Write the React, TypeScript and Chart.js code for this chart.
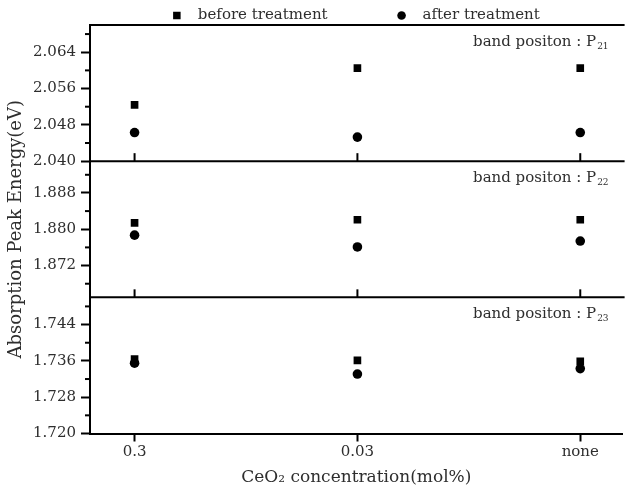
import React, { useEffect, useRef } from 'react';
import { Chart, registerables } from 'chart.js';

Chart.register(...registerables);

const categories = ['0.3', '0.03', 'none'];
const seriesNames = ['before treatment', 'after treatment'];
const bandSubscripts = ['21', '22', '23'];
const bandText = 'band positon : P';

const p21Before = [2.0524, 2.0605, 2.0605];
const p21After = [2.0463, 2.0453, 2.0463];
const p22Before = [1.8814, 1.8821, 1.8821];
const p22After = [1.8787, 1.8761, 1.8774];
const p23Before = [1.7364, 1.7361, 1.7359];
const p23After = [1.7355, 1.7331, 1.7343];

const panelMin = [2.04, 1.865, 1.72];
const panelMax = [2.07, 1.895, 1.75];
const majorStep = 0.008;
const minorStep = 0.004;

const yTitle = 'Absorption Peak Energy(eV)';
const xTitle = 'CeO\u2082 concentration(mol%)';

const FONT = "'DejaVu Serif', 'Liberation Serif', serif";
const INK = '#2e2e2e';

const panelIds = ['y1', 'y2', 'y3'];
const panelBefore = [p21Before, p22Before, p23Before];
const panelAfter = [p21After, p22After, p23After];

const isMajor = (v: number) => Math.abs(v / majorStep - Math.round(v / majorStep)) < 1e-6;

const framePlugin = {
  id: 'frame',
  afterDraw(chart: any) {
    const { ctx, chartArea } = chart;
    const xs = chart.scales.x;
    ctx.save();
    ctx.strokeStyle = '#000';
    ctx.lineWidth = 2;
    const line = (x1: number, y1: number, x2: number, y2: number) => {
      ctx.beginPath();
      ctx.moveTo(x1, y1);
      ctx.lineTo(x2, y2);
      ctx.stroke();
    };
    panelIds.forEach((id, i) => {
      const s = chart.scales[id];
      line(chartArea.left - 1, s.top, chartArea.right + 2, s.top);
      s.ticks.forEach((t: any) => {
        if (!isMajor(t.value)) {
          const y = s.getPixelForValue(t.value);
          line(s.right - 5, y, s.right, y);
        }
      });
      if (i < panelIds.length - 1) {
        xs.ticks.forEach((t: any) => {
          const x = xs.getPixelForValue(t.value);
          line(x, s.bottom, x, s.bottom - 8);
        });
      }
      // band label
      ctx.fillStyle = INK;
      ctx.textBaseline = 'middle';
      ctx.textAlign = 'left';
      ctx.font = `9px ${FONT}`;
      const subW = ctx.measureText(bandSubscripts[i]).width;
      ctx.font = `15px ${FONT}`;
      const mainW = ctx.measureText(bandText).width;
      const xEnd = chartArea.right - 14;
      const x0 = xEnd - subW - 1 - mainW;
      ctx.fillText(bandText, x0, s.top + 16.7);
      ctx.font = `9px ${FONT}`;
      ctx.fillText(bandSubscripts[i], x0 + mainW + 1, s.top + 21.5);
    });

    // legend
    ctx.font = `15px ${FONT}`;
    const widths = seriesNames.map((n) => ctx.measureText(n).width);
    const markerW = 8;
    const gapMT = 17;
    const gapItems = 70;
    const total = widths.reduce((a, w) => a + markerW + gapMT + w, 0) + gapItems * (seriesNames.length - 1);
    let x = (chartArea.left + chartArea.right) / 2 - total / 2;
    const y = chartArea.top - 9.5;
    const styles = [chart.data.datasets[0], chart.data.datasets[1]];
    seriesNames.forEach((name, i) => {
      const ds: any = styles[i];
      ctx.fillStyle = ds.backgroundColor;
      const cx = x + markerW / 2;
      if (ds.pointStyle === 'rect') {
        ctx.fillRect(cx - 3.75, y - 3.75, 7.5, 7.5);
      } else {
        ctx.beginPath();
        ctx.arc(cx, y, 4.3, 0, Math.PI * 2);
        ctx.fill();
      }
      ctx.fillStyle = INK;
      ctx.textBaseline = 'middle';
      ctx.fillText(name, x + markerW + gapMT, y);
      x += markerW + gapMT + widths[i] + gapItems;
    });
    ctx.restore();
  },
};

function yScale(i: number, withTitle: boolean) {
  return {
    type: 'linear',
    position: 'left',
    stack: 'panels',
    stackWeight: 1,
    min: panelMin[i],
    max: panelMax[i],
    afterFit: (s: any) => {
      s.width = 90;
    },
    border: { display: true, color: '#000', width: 2 },
    grid: {
      display: true,
      drawOnChartArea: false,
      drawTicks: true,
      tickLength: 9,
      tickWidth: 2,
      tickColor: (c: any) => (c.tick && isMajor(c.tick.value) ? '#000' : 'rgba(0,0,0,0)'),
    },
    ticks: {
      stepSize: minorStep,
      includeBounds: false,
      autoSkip: false,
      padding: 5,
      color: INK,
      font: { family: FONT, size: 15 },
      callback: (v: any) => (isMajor(Number(v)) ? Number(v).toFixed(3) : ''),
    },
    title: {
      display: withTitle,
      text: yTitle,
      color: INK,
      font: { family: FONT, size: 18 },
      padding: { top: 6, bottom: 0 },
    },
  };
}

export default function App() {
  const ref = useRef<HTMLCanvasElement | null>(null);
  useEffect(() => {
    if (!ref.current) return;
    const datasets: any[] = [];
    panelIds.forEach((id, i) => {
      datasets.push({
        label: seriesNames[0],
        yAxisID: id,
        data: panelBefore[i].map((v, k) => ({ x: k, y: v })),
        pointStyle: 'rect',
        pointRadius: 5.4,
        pointHoverRadius: 5.4,
        backgroundColor: '#000',
        borderWidth: 0,
        showLine: false,
      });
      datasets.push({
        label: seriesNames[1],
        yAxisID: id,
        data: panelAfter[i].map((v, k) => ({ x: k, y: v })),
        pointStyle: 'circle',
        pointRadius: 4.8,
        pointHoverRadius: 4.8,
        backgroundColor: '#000',
        borderWidth: 0,
        showLine: false,
      });
    });
    const chart = new Chart(ref.current, {
      type: 'scatter',
      data: { datasets },
      options: {
        animation: false,
        responsive: false,
        layout: { padding: { top: 25, left: 0, right: 0, bottom: 0 } },
        plugins: { legend: { display: false }, tooltip: { enabled: false } },
        scales: {
          x: {
            type: 'linear',
            position: 'bottom',
            min: -0.2,
            max: 2.19,
            afterFit: (s: any) => {
              s.height = 58.5;
            },
            border: { display: true, color: '#000', width: 2 },
            grid: {
              display: true,
              drawOnChartArea: false,
              drawTicks: true,
              tickLength: 8,
              tickWidth: 2,
              tickColor: '#000',
            },
            ticks: {
              stepSize: 1,
              includeBounds: false,
              autoSkip: false,
              padding: 2,
              color: INK,
              font: { family: FONT, size: 15 },
              callback: (v: any) => {
                const n = Number(v);
                return Number.isInteger(n) && categories[n] !== undefined ? categories[n] : '';
              },
            },
            title: {
              display: true,
              text: xTitle,
              color: INK,
              font: { family: FONT, size: 17 },
              padding: { top: 0, bottom: 4 },
            },
          },
          y3: yScale(2, false),
          y2: yScale(1, true),
          y1: yScale(0, false),
        } as any,
      },
      plugins: [framePlugin],
    } as any);
    return () => chart.destroy();
  }, []);
  return (
    <div style={{ position: 'fixed', left: 0, top: 0, width: 628, height: 492, background: '#fff' }}>
      <canvas ref={ref} width={628} height={492} style={{ display: 'block' }} />
    </div>
  );
}
